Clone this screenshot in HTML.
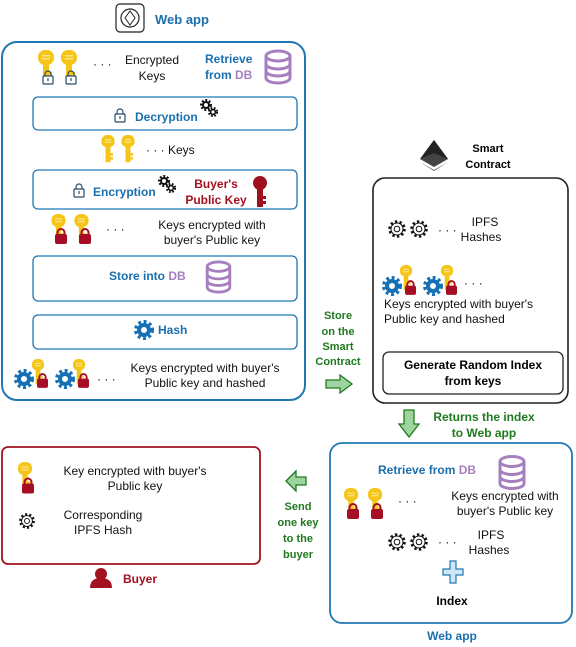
<!DOCTYPE html>
<html><head><meta charset="utf-8"><style>
html,body{margin:0;padding:0;background:#fff}
svg{display:block}
text{font-family:"Liberation Sans",sans-serif}
.b{font-weight:bold}
.blue{fill:#1a6fae}
.pur{fill:#a67fbf}
.red{fill:#a3101f}
.grn{fill:#1f7a1f}
.t{font-size:12px;fill:#111}
</style></head><body>
<svg width="576" height="647" viewBox="0 0 576 647" xmlns="http://www.w3.org/2000/svg">
<defs>
<symbol id="key" viewBox="0 0 16 34" overflow="visible">
 <rect x="0" y="0" width="16" height="15" rx="7" fill="#f5c518"/>
 <rect x="4" y="5" width="8" height="1.5" fill="#fbe48a"/><rect x="4" y="8" width="8" height="1.5" fill="#fbe48a"/>
 <rect x="5" y="13" width="6" height="20" fill="#f5c518"/>
 <rect x="11" y="22" width="3" height="3" fill="#f5c518"/><rect x="11" y="27" width="3" height="3" fill="#f5c518"/>
</symbol>
<symbol id="rlock" viewBox="0 0 12 16" overflow="visible">
 <path d="M2.5 7 V4.5 a3.5 3.5 0 0 1 7 0 V7" fill="none" stroke="#a50e24" stroke-width="2"/>
 <rect x="0" y="6" width="12" height="10" rx="2" fill="#a50e24"/>
</symbol>
<symbol id="olock" viewBox="0 0 12 14" overflow="visible">
 <path d="M3 6 V4 a3 3 0 0 1 6 0 V6" fill="none" stroke="#274a66" stroke-width="1.2"/>
 <rect x="1" y="6" width="10" height="8" rx="1" fill="#fff" stroke="#274a66" stroke-width="1.2"/>
 <rect x="5.4" y="8" width="1.2" height="3" fill="#274a66"/>
</symbol>
<symbol id="gear" viewBox="0 0 20 20" overflow="visible">
 <circle cx="10" cy="10" r="7" fill="none" stroke="#111" stroke-width="3.5" stroke-dasharray="2.2 2.2"/>
 <circle cx="10" cy="10" r="6" fill="#fff" stroke="#111" stroke-width="1"/>
 <circle cx="10" cy="10" r="2.8" fill="#fff" stroke="#111" stroke-width="1"/>
</symbol>
<symbol id="bgear" viewBox="0 0 20 20" overflow="visible">
 <circle cx="10" cy="10" r="8" fill="none" stroke="#1670b5" stroke-width="4" stroke-dasharray="2.8 2.5"/>
 <circle cx="10" cy="10" r="5" fill="none" stroke="#1670b5" stroke-width="4"/>
</symbol>
<symbol id="dgear" viewBox="0 0 20 20" overflow="visible">
 <circle cx="7" cy="7" r="4.5" fill="none" stroke="#111" stroke-width="3" stroke-dasharray="1.8 1.6"/>
 <circle cx="7" cy="7" r="3" fill="none" stroke="#111" stroke-width="2"/>
 <circle cx="14" cy="14" r="3.8" fill="none" stroke="#111" stroke-width="2.6" stroke-dasharray="1.6 1.5"/>
 <circle cx="14" cy="14" r="2.4" fill="none" stroke="#111" stroke-width="1.6"/>
</symbol>
<symbol id="db" viewBox="0 0 28 34" overflow="visible">
 <path d="M2 6 V28 a12 5 0 0 0 24 0 V6" fill="#fff" stroke="#a67fbf" stroke-width="3"/>
 <ellipse cx="14" cy="6" rx="12" ry="5" fill="#fff" stroke="#a67fbf" stroke-width="3"/>
 <path d="M2 14 a12 5 0 0 0 24 0 M2 21 a12 5 0 0 0 24 0" fill="none" stroke="#a67fbf" stroke-width="3"/>
</symbol>
</defs>

<!-- Top web app label -->
<g transform="translate(116,4)">
 <rect x="0" y="0" width="28" height="28" rx="4" fill="#fff" stroke="#222" stroke-width="1.2"/>
 <circle cx="14" cy="14" r="9" fill="none" stroke="#222" stroke-width="1.2"/>
 <path d="M14 7 L19 14 L14 21 L9 14 Z" fill="none" stroke="#222"/>
</g>
<text x="155" y="24" class="b blue" font-size="13">Web app</text>

<!-- Main box -->
<rect x="2" y="42" width="303" height="358" rx="15" fill="#fff" stroke="#1f78b4" stroke-width="2"/>
<use href="#key" x="38" y="50" width="16" height="34"/>
<use href="#key" x="61" y="50" width="16" height="34"/>
<use href="#olock" x="42" y="70" width="12" height="14"/>
<use href="#olock" x="65" y="70" width="12" height="14"/>
<text x="93" y="68" class="t">· · ·</text>
<text x="152" y="64" class="t" text-anchor="middle">Encrypted</text>
<text x="152" y="80" class="t" text-anchor="middle">Keys</text>
<text x="205" y="63" class="b blue" font-size="12">Retrieve</text>
<text x="205" y="79" class="b blue" font-size="12">from <tspan class="pur">DB</tspan></text>
<use href="#db" x="264" y="50" width="28" height="34"/>

<rect x="33" y="97" width="264" height="33" rx="5" fill="#fff" stroke="#1f78b4" stroke-width="1.3"/>
<use href="#olock" x="114" y="108" width="12" height="14"/>
<text x="135" y="121" class="b blue" font-size="12">Decryption</text>
<use href="#dgear" x="199" y="98" width="20" height="20"/>

<use href="#key" x="100" y="135" width="16" height="28"/>
<use href="#key" x="120" y="135" width="16" height="28"/>
<text x="146" y="154" class="t">· · · Keys</text>

<rect x="33" y="170" width="264" height="39" rx="5" fill="#fff" stroke="#1f78b4" stroke-width="1.3"/>
<use href="#olock" x="73" y="183" width="12" height="14"/>
<text x="93" y="196" class="b blue" font-size="12">Encryption</text>
<use href="#dgear" x="157" y="174" width="20" height="20"/>
<text x="216" y="188" class="b red" font-size="12" text-anchor="middle">Buyer's</text>
<text x="216" y="204" class="b red" font-size="12" text-anchor="middle">Public Key</text>
<g fill="#a00f1d"><circle cx="260" cy="183" r="7"/><rect x="257" y="186" width="6" height="21"/><rect x="263" y="196" width="3" height="3"/><rect x="263" y="201" width="3" height="3"/></g>

<use href="#key" x="51" y="214" width="15" height="30"/>
<use href="#key" x="74" y="214" width="15" height="30"/>
<use href="#rlock" x="55" y="228" width="12" height="16"/>
<use href="#rlock" x="79" y="228" width="12" height="16"/>
<text x="106" y="233" class="t">· · ·</text>
<text x="212" y="229" class="t" text-anchor="middle">Keys encrypted with</text>
<text x="212" y="244" class="t" text-anchor="middle">buyer's Public key</text>

<rect x="33" y="256" width="264" height="45" rx="5" fill="#fff" stroke="#1f78b4" stroke-width="1.3"/>
<text x="109" y="280" class="b blue" font-size="12">Store into <tspan class="pur">DB</tspan></text>
<use href="#db" x="205" y="261" width="27" height="32"/>

<rect x="33" y="315" width="264" height="34" rx="5" fill="#fff" stroke="#1f78b4" stroke-width="1.3"/>
<use href="#bgear" x="134" y="320" width="20" height="20"/>
<text x="158" y="334" class="b blue" font-size="12">Hash</text>

<use href="#bgear" x="14" y="369" width="20" height="20"/>
<use href="#key" x="30" y="359" width="16" height="26"/>
<use href="#rlock" x="37" y="373" width="11" height="15"/>
<use href="#bgear" x="55" y="369" width="20" height="20"/>
<use href="#key" x="71" y="359" width="16" height="26"/>
<use href="#rlock" x="78" y="373" width="11" height="15"/>
<text x="97" y="383" class="t">· · ·</text>
<text x="205" y="372" class="t" text-anchor="middle">Keys encrypted with buyer's</text>
<text x="205" y="387" class="t" text-anchor="middle">Public key and hashed</text>

<!-- Smart contract -->
<g transform="translate(420,140)">
 <path d="M14 0 L28 19 L14 27 L0 19 Z" fill="#444"/>
 <path d="M14 0 L28 19 L14 13 L0 19 Z" fill="#222"/>
 <path d="M0 22 L14 30 L28 22 L14 31 Z" fill="#555"/>
</g>
<text x="488" y="152" class="b" font-size="11" text-anchor="middle">Smart</text>
<text x="488" y="168" class="b" font-size="11" text-anchor="middle">Contract</text>
<rect x="373" y="178" width="195" height="225" rx="12" fill="#fff" stroke="#222" stroke-width="1.6"/>
<use href="#gear" x="387" y="219" width="20" height="20"/>
<use href="#gear" x="409" y="219" width="20" height="20"/>
<text x="438" y="234" class="t">· · ·</text>
<text x="485" y="226" class="t" text-anchor="middle">IPFS</text>
<text x="481" y="241" class="t" text-anchor="middle">Hashes</text>
<use href="#bgear" x="382" y="276" width="20" height="20"/>
<use href="#key" x="398" y="265" width="16" height="26"/>
<use href="#rlock" x="405" y="280" width="11" height="15"/>
<use href="#bgear" x="423" y="276" width="20" height="20"/>
<use href="#key" x="439" y="265" width="16" height="26"/>
<use href="#rlock" x="446" y="280" width="11" height="15"/>
<text x="464" y="287" class="t">· · ·</text>
<text x="384" y="308" class="t">Keys encrypted with buyer's</text>
<text x="384" y="323" class="t">Public key and hashed</text>
<rect x="383" y="352" width="180" height="42" rx="6" fill="#fff" stroke="#222" stroke-width="1.3"/>
<text x="473" y="369" class="b" font-size="12" text-anchor="middle">Generate Random Index</text>
<text x="473" y="385" class="b" font-size="12" text-anchor="middle">from keys</text>

<text x="338" y="319" class="b grn" font-size="11" text-anchor="middle">Store</text>
<text x="338" y="335" class="b grn" font-size="11" text-anchor="middle">on the</text>
<text x="338" y="350" class="b grn" font-size="11" text-anchor="middle">Smart</text>
<text x="338" y="365" class="b grn" font-size="11" text-anchor="middle">Contract</text>
<path d="M326 380 H340 V375 L352 384 L340 393 V388 H326 Z" fill="#9ed49e" stroke="#1f7a1f" stroke-width="1.3"/>

<path d="M404 410 H414 V424 H419 L409 437 L399 424 H404 Z" fill="#9ed49e" stroke="#1f7a1f" stroke-width="1.3"/>
<text x="484" y="421" class="b grn" font-size="12" text-anchor="middle">Returns the index</text>
<text x="484" y="437" class="b grn" font-size="12" text-anchor="middle">to Web app</text>

<!-- Bottom web app -->
<rect x="330" y="443" width="242" height="180" rx="12" fill="#fff" stroke="#1f78b4" stroke-width="1.8"/>
<text x="378" y="474" class="b blue" font-size="12">Retrieve from <tspan class="pur">DB</tspan></text>
<use href="#db" x="498" y="455" width="28" height="35"/>
<use href="#key" x="343" y="488" width="16" height="30"/>
<use href="#key" x="367" y="488" width="16" height="30"/>
<use href="#rlock" x="347" y="503" width="12" height="16"/>
<use href="#rlock" x="371" y="503" width="12" height="16"/>
<text x="398" y="505" class="t">· · ·</text>
<text x="505" y="500" class="t" text-anchor="middle">Keys encrypted with</text>
<text x="505" y="515" class="t" text-anchor="middle">buyer's Public key</text>
<use href="#gear" x="387" y="532" width="20" height="20"/>
<use href="#gear" x="409" y="532" width="20" height="20"/>
<text x="438" y="546" class="t">· · ·</text>
<text x="491" y="539" class="t" text-anchor="middle">IPFS</text>
<text x="489" y="554" class="t" text-anchor="middle">Hashes</text>
<path d="M450 561 H456 V569 H463 V575 H456 V583 H450 V575 H443 V569 H450 Z" fill="#cfe6f7" stroke="#1f78b4" stroke-width="1.2"/>
<text x="452" y="605" class="b" font-size="12" text-anchor="middle">Index</text>
<text x="452" y="640" class="b blue" font-size="12" text-anchor="middle">Web app</text>

<!-- Send arrow -->
<path d="M306 477 H296 V471 L286 481 L296 491 V485 H306 Z" fill="#9ed49e" stroke="#1f7a1f" stroke-width="1.3"/>
<text x="298" y="510" class="b grn" font-size="11" text-anchor="middle">Send</text>
<text x="298" y="526" class="b grn" font-size="11" text-anchor="middle">one key</text>
<text x="298" y="542" class="b grn" font-size="11" text-anchor="middle">to the</text>
<text x="298" y="558" class="b grn" font-size="11" text-anchor="middle">buyer</text>

<!-- Buyer box -->
<rect x="2" y="447" width="258" height="117" rx="6" fill="#fff" stroke="#a0141e" stroke-width="1.8"/>
<use href="#key" x="17" y="462" width="16" height="30"/>
<use href="#rlock" x="22" y="477" width="12" height="17"/>
<text x="135" y="475" class="t" text-anchor="middle">Key encrypted with buyer's</text>
<text x="135" y="490" class="t" text-anchor="middle">Public key</text>
<use href="#gear" x="18" y="512" width="18" height="18"/>
<text x="103" y="519" class="t" text-anchor="middle">Corresponding</text>
<text x="103" y="534" class="t" text-anchor="middle">IPFS Hash</text>
<g fill="#a3101f"><circle cx="101" cy="574" r="6"/><path d="M90 588 Q90 578 101 578 Q112 578 112 588 Z"/></g>
<text x="123" y="583" class="b red" font-size="12">Buyer</text>
</svg>
</body></html>
